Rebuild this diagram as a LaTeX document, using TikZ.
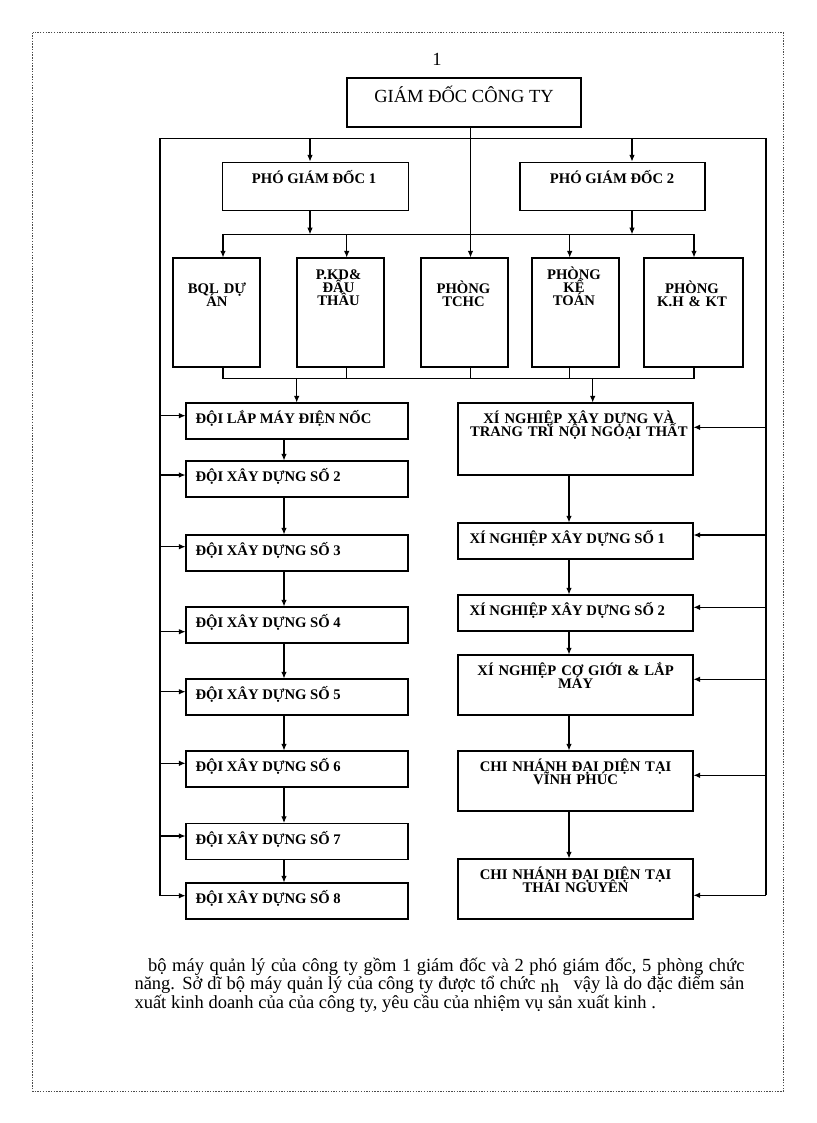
\documentclass[tikz,border=0pt]{standalone}
\usepackage{fontspec}
\setmainfont{Liberation Serif}
\usetikzlibrary{arrows.meta}
\newcommand{\px}{0.7296pt}
\newcommand{\tightlines}{\lineskiplimit=-20pt\relax}
\begin{document}
\begin{tikzpicture}
[x=0.7296pt,y=-0.7296pt,line width=0.75pt,>={Latex[length=4.8pt,width=4pt]},
unit/.style={draw,inner sep=0pt},
dept/.style={unit,minimum width=87*\px,minimum height=109*\px},
team/.style={unit,minimum width=222*\px,minimum height=36*\px},
firm/.style={unit,minimum width=235*\px},
lbl/.style={font={\bfseries\fontsize{10.7}{9.5}\selectfont\tightlines},inner sep=0pt},
multi/.style={lbl,align=center,text width=#1,anchor=base},
head/.style={font=\fontsize{13.5}{15}\selectfont,inner sep=0pt,anchor=base},
note/.style={font=\fontsize{13.5}{13.4}\selectfont,text width=445pt,align=justify,inner sep=0pt}]
\useasboundingbox (0,0) rectangle (816,1123);
\draw[gray!60!black,line width=0.5pt,dash pattern=on 1pt off 1pt] (32.5,32.5) rectangle (783.3,1091.3);

\node[head] (num) at (437,65) {1};
\node[unit,minimum width=234*\px,minimum height=49*\px] (gd) at (464,102.5) {};
\node[head] (gd-t) at (464,102.7) {GIÁM ĐỐC CÔNG TY};

\node[unit,minimum width=186*\px,minimum height=48.5*\px] (pgd1) at (315.5,186.3) {};
\node[unit,minimum width=185*\px,minimum height=48.5*\px] (pgd2) at (612.5,186.3) {};
\node[lbl,anchor=base] (pgd1-t) at (314,183.3) {PHÓ GIÁM ĐỐC 1};
\node[lbl,anchor=base] (pgd2-t) at (612,183.3) {PHÓ GIÁM ĐỐC 2};

% phong ban
\node[dept] (bql) at (216.5,312.5) {};
\node[dept] (pkd) at (340.5,312.5) {};
\node[dept] (tchc) at (464.5,312.5) {};
\node[dept] (kt) at (575.5,312.5) {};
\node[dept,minimum width=99*\px] (kh) at (693.5,312.5) {};
\node[multi=60pt] (bql-t) at (217,293.3) {BQL DỰ\\ÁN};
\node[multi=60pt] (pkd-t) at (338.5,279.3) {P.KD\&\\ĐẤU\\THẦU};
\node[multi=60pt] (tchc-t) at (463.5,293.3) {PHÒNG\\TCHC};
\node[multi=60pt] (kt-t) at (574,279.3) {PHÒNG\\KẾ\\TOÁN};
\node[multi=66pt] (kh-t) at (692,293.3) {PHÒNG\\K.H \& KT};

% doi
\node[team] (d1) at (297,421) {};
\node[team] (d2) at (297,479) {};
\node[team] (d3) at (297,553) {};
\node[team] (d4) at (297,625) {};
\node[team] (d5) at (297,697) {};
\node[team] (d6) at (297,769) {};
\node[team] (d7) at (297,841.5) {};
\node[team] (d8) at (297,901) {};
\node[lbl,anchor=base west] (d1-t) at (195,423.5) {ĐỘI LẮP MÁY ĐIỆN NỐC};
\node[lbl,anchor=base west] (d2-t) at (195,481.5) {ĐỘI XÂY DỰNG SỐ 2};
\node[lbl,anchor=base west] (d3-t) at (195,555.5) {ĐỘI XÂY DỰNG SỐ 3};
\node[lbl,anchor=base west] (d4-t) at (195,627.5) {ĐỘI XÂY DỰNG SỐ 4};
\node[lbl,anchor=base west] (d5-t) at (195,699.5) {ĐỘI XÂY DỰNG SỐ 5};
\node[lbl,anchor=base west] (d6-t) at (195,771.5) {ĐỘI XÂY DỰNG SỐ 6};
\node[lbl,anchor=base west] (d7-t) at (195,844) {ĐỘI XÂY DỰNG SỐ 7};
\node[lbl,anchor=base west] (d8-t) at (195,903.5) {ĐỘI XÂY DỰNG SỐ 8};

% xi nghiep, chi nhanh
\node[firm,minimum height=72*\px] (x0) at (575.5,439) {};
\node[firm,minimum height=36*\px] (x1) at (575.5,541) {};
\node[firm,minimum height=36*\px] (x2) at (575.5,613) {};
\node[firm,minimum height=60*\px] (x3) at (575.5,685) {};
\node[firm,minimum height=60*\px] (x4) at (575.5,781) {};
\node[firm,minimum height=60*\px] (x5) at (575.5,889) {};
\node[multi=165pt] (x0-t) at (578.8,423.3) {XÍ NGHIỆP XÂY DỰNG VÀ\\TRANG TRÍ NỘI NGOẠI THẤT};
\node[lbl,anchor=base west] (x1-t) at (469,543.5) {XÍ NGHIỆP XÂY DỰNG SỐ 1};
\node[lbl,anchor=base west] (x2-t) at (469,615.5) {XÍ NGHIỆP XÂY DỰNG SỐ 2};
\node[multi=165pt] (x3-t) at (575.6,675) {XÍ NGHIỆP CƠ GIỚI \& LẮP\\MÁY};
\node[multi=165pt] (x4-t) at (575.6,771) {CHI NHÁNH ĐẠI DIỆN TẠI\\VĨNH PHÚC};
\node[multi=165pt] (x5-t) at (575.6,879.3) {CHI NHÁNH ĐẠI DIỆN TẠI\\THÁI NGUYÊN};

\node[note,anchor=base west] (note) at (134,971.5) {\hspace*{10pt}bộ máy quản lý của công ty gồm 1 giám đốc và 2 phó giám đốc, 5 phòng chức\linebreak
năng. Sở dĩ bộ máy quản lý của công ty được tổ chức \raisebox{-2pt}{nh}\hspace{7pt} vậy là do đặc điểm sản\linebreak
xuất kinh doanh của của công ty, yêu cầu của nhiệm vụ sản xuất kinh .};

% duong noi
\coordinate (tl) at (160,138.7);
\coordinate (tr) at (766,138.7);
\coordinate (bl) at (160,895.7);
\coordinate (br) at (766,895.3);
\coordinate (t1) at (310,138.7);
\coordinate (t2) at (632,138.7);
\coordinate (b1) at (223,234.3);
\coordinate (b2) at (346.7,234.3);
\coordinate (b3) at (470.5,234.3);
\coordinate (b4) at (569.7,234.3);
\coordinate (b5) at (694,234.3);
\coordinate (c1) at (223,378.3);
\coordinate (c5) at (694,378.3);
\coordinate (m1) at (296.7,378.3);
\coordinate (m2) at (592.7,378.3);
\coordinate (lx) at (284,421);
\coordinate (rx) at (569,439);

\draw (bl) -- (tl) -- (tr) -- (br);
\draw [->] (t1) -- (t1 |- pgd1.north);
\draw [->] (t2) -- (t2 |- pgd2.north);
\draw [->] (t1 |- pgd1.south) -- (t1 |- b1);
\draw [->] (t2 |- pgd2.south) -- (t2 |- b5);
\draw (b1) -- (b5);
\draw [->] (b1) -- (b1 |- bql.north);
\draw [->] (b2) -- (b2 |- pkd.north);
\draw [->] (b3 |- gd.south) -- (b3 |- tchc.north);
\draw [->] (b4) -- (b4 |- kt.north);
\draw [->] (b5) -- (b5 |- kh.north);
\draw (c1 |- bql.south) -- (c1) -- (c5) -- (c5 |- kh.south);
\draw (b2 |- pkd.south) -- (b2 |- c1);
\draw (b3 |- tchc.south) -- (b3 |- c1);
\draw (b4 |- kt.south) -- (b4 |- c1);
\draw [->] (m1) -- (m1 |- d1.north);
\draw [->] (m2) -- (m2 |- x0.north);

\draw [->] (lx |- d1.south) -- (lx |- d2.north);
\draw [->] (lx |- d2.south) -- (lx |- d3.north);
\draw [->] (lx |- d3.south) -- (lx |- d4.north);
\draw [->] (lx |- d4.south) -- (lx |- d5.north);
\draw [->] (lx |- d5.south) -- (lx |- d6.north);
\draw [->] (lx |- d6.south) -- (lx |- d7.north);
\draw [->] (lx |- d7.south) -- (lx |- d8.north);
\draw [->] (tl |- 0,415.7) -- (d1.west |- 0,415.7);
\draw [->] (tl |- 0,475) -- (d2.west |- 0,475);
\draw [->] (tl |- 0,546.7) -- (d3.west |- 0,546.7);
\draw [->] (tl |- 0,631.7) -- (d4.west |- 0,631.7);
\draw [->] (tl |- 0,691.7) -- (d5.west |- 0,691.7);
\draw [->] (tl |- 0,763.3) -- (d6.west |- 0,763.3);
\draw [->] (tl |- 0,836) -- (d7.west |- 0,836);
\draw [->] (bl) -- (bl -| d8.west);

\draw [->] (rx |- x0.south) -- (rx |- x1.north);
\draw [->] (rx |- x1.south) -- (rx |- x2.north);
\draw [->] (rx |- x2.south) -- (rx |- x3.north);
\draw [->] (rx |- x3.south) -- (rx |- x4.north);
\draw [->] (rx |- x4.south) -- (rx |- x5.north);
\draw [->] (tr |- 0,427.3) -- (x0.east |- 0,427.3);
\draw [->] (tr |- 0,535) -- (x1.east |- 0,535);
\draw [->] (tr |- 0,607.3) -- (x2.east |- 0,607.3);
\draw [->] (tr |- 0,679.3) -- (x3.east |- 0,679.3);
\draw [->] (tr |- 0,775.3) -- (x4.east |- 0,775.3);
\draw [->] (br) -- (br -| x5.east);
\end{tikzpicture}
\end{document}
